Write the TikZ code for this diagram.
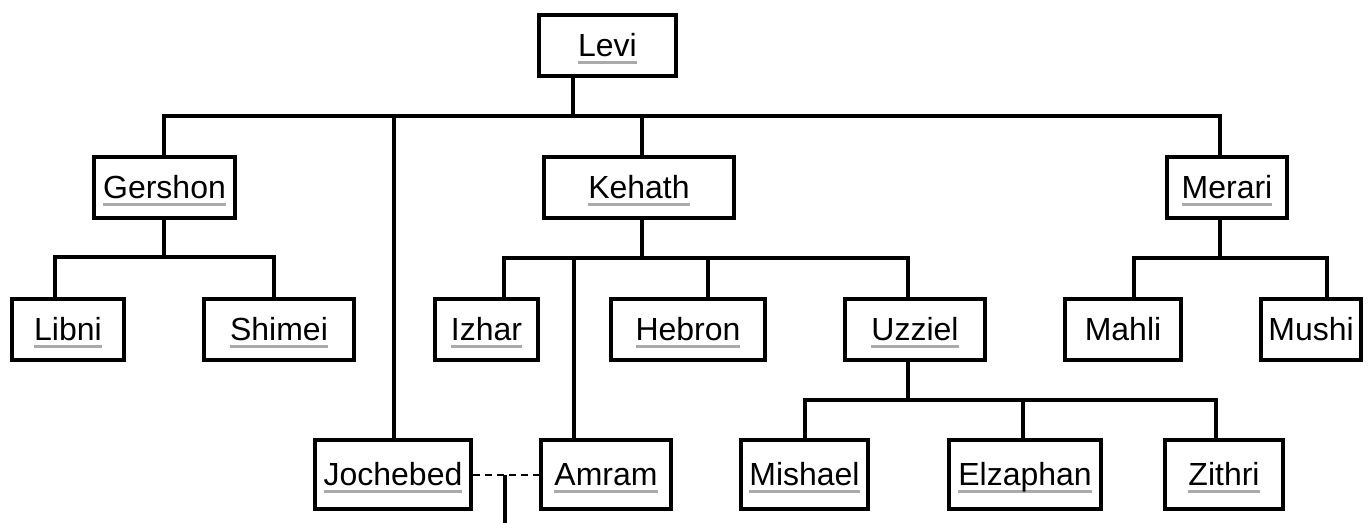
\documentclass[tikz,border=0pt]{standalone}
\usepackage{fontspec}
\setmainfont{Liberation Sans}
\usepackage{xcolor}
\usepackage{tikz}
\definecolor{linkgray}{HTML}{AAAAAA}
\newsavebox{\namebox}
\newcommand{\linked}[1]{\sbox{\namebox}{#1}\rlap{\color{linkgray}\rule[-0.15cm]{\wd\namebox}{0.06cm}}\usebox{\namebox}}

\begin{document}
\begin{tikzpicture}[x=0.02cm,y=-0.02cm,
  person/.style={draw,line width=0.075cm,minimum height=1.23cm,inner sep=0pt,
    text height=0.46cm,text depth=0pt,font=\fontsize{18.2}{22}\selectfont},
  tall/.style={minimum height=1.37cm},
  link/.style={line width=0.066cm},
  spouse/.style={line width=0.04cm,dash pattern=on 0.14cm off 0.1cm}]
\useasboundingbox (0,0) rectangle (1369,523);

% first generation
\node[person,minimum width=2.75cm] (levi) at (607.5,45.5) {\linked{Levi}};

% sons of Levi
\node[person,minimum width=2.83cm] (gershon) at (164.5,187.5) {\linked{Gershon}};
\node[person,minimum width=3.81cm] (kehath) at (639,187.5) {\linked{Kehath}};
\node[person,minimum width=2.41cm] (merari) at (1227,187.5) {\linked{Merari}};

% grandsons
\node[person,minimum width=2.25cm] (libni) at (68,329.5) {\linked{Libni}};
\node[person,minimum width=3.01cm] (shimei) at (279,329.5) {\linked{Shimei}};
\node[person,minimum width=2.07cm] (izhar) at (486.5,329.5) {\linked{Izhar}};
\node[person,minimum width=3.09cm] (hebron) at (688,329.5) {\linked{Hebron}};
\node[person,minimum width=2.81cm] (uzziel) at (915,329.5) {\linked{Uzziel}};
\node[person,minimum width=2.33cm] (mahli) at (1123,329.5) {Mahli};
\node[person,minimum width=2.01cm] (mushi) at (1311,329.5) {Mushi};

% bottom row
\node[person,tall,minimum width=3.13cm] (jochebed) at (393,474.5) {\linked{Jochebed}};
\node[person,tall,minimum width=2.61cm] (amram) at (606,474.5) {\linked{Amram}};
\node[person,tall,minimum width=2.55cm] (mishael) at (804.5,474.5) {\linked{Mishael}};
\node[person,tall,minimum width=3.05cm] (elzaphan) at (1025,474.5) {\linked{Elzaphan}};
\node[person,tall,minimum width=2.37cm] (zithri) at (1224,474.5) {\linked{Zithri}};

% Levi
\coordinate (levi-fork) at (573,116);
\draw[link] (levi.south -| levi-fork) -- (levi-fork);
\draw[link] (gershon.north -| 164,0) |- (levi-fork) -| (merari.north -| 1220,0);
\draw[link] (jochebed.north -| 394,0) |- (levi-fork);
\draw[link] (kehath.north -| 642,0) |- (levi-fork);

% Gershon
\coordinate (gershon-fork) at (164,257);
\draw[link] (gershon.south -| gershon-fork) -- (gershon-fork);
\draw[link] (libni.north -| 55,0) |- (gershon-fork) -| (shimei.north -| 274,0);

% Kehath
\coordinate (kehath-fork) at (642,258);
\draw[link] (kehath.south -| kehath-fork) -- (kehath-fork);
\draw[link] (izhar.north -| 504,0) |- (kehath-fork) -| (uzziel.north -| 908,0);
\draw[link] (amram.north -| 574,0) -- (kehath-fork -| 574,0);
\draw[link] (hebron.north -| 708,0) -- (kehath-fork -| 708,0);

% Merari
\coordinate (merari-fork) at (1220,258);
\draw[link] (merari.south -| merari-fork) -- (merari-fork);
\draw[link] (mahli.north -| 1134,0) |- (merari-fork) -| (mushi.north -| 1327,0);

% Uzziel
\coordinate (uzziel-fork) at (908,400);
\draw[link] (uzziel.south -| uzziel-fork) -- (uzziel-fork);
\draw[link] (mishael.north -| 805,0) |- (uzziel-fork) -| (zithri.north -| 1216,0);
\draw[link] (elzaphan.north -| 1023,0) -- (uzziel-fork -| 1023,0);

% Amram and Jochebed
\coordinate (issue) at (505,523);
\draw[spouse] (jochebed) -- (amram);
\draw[link] (issue |- jochebed) -- (issue);
\end{tikzpicture}
\end{document}
